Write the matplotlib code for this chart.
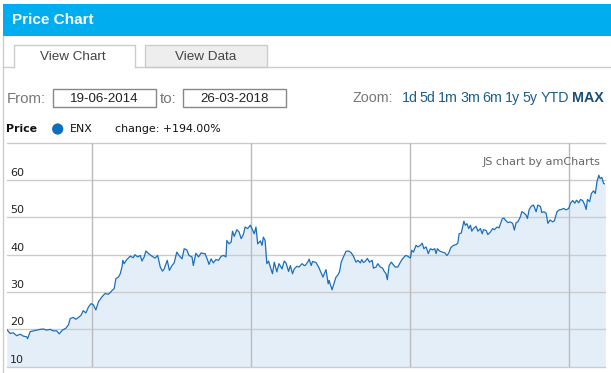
import numpy as np
import matplotlib
matplotlib.use("Agg")
import matplotlib.pyplot as plt
import matplotlib.patches as mpatches
from matplotlib.transforms import blended_transform_factory

# ENX price (days since 19-06-2014, price)
start_date = np.datetime64("2014-06-19")
end_date = np.datetime64("2018-03-26")

days = [0, 8, 15, 23, 31, 38, 46, 48, 54, 61, 69, 77, 84, 92, 100, 107, 115, 121, 128, 136,
        142, 146, 153, 159, 165, 171, 176, 182, 188, 194, 199, 205, 211, 219,
        226, 234, 242, 247, 251, 257, 261, 265, 267, 270, 276, 284, 291, 295, 301, 307, 311, 316,
        320, 326, 334, 341, 347, 353, 358, 362, 369, 374, 380, 385, 391, 396, 403, 408, 414, 419,
        426, 429, 435, 441, 447, 452,
        456, 462, 465, 470, 475, 481, 487, 493, 499, 504, 506, 511, 516, 519, 523, 529, 534, 539,
        544, 548, 554, 560, 565, 569, 573, 577, 583, 587, 590, 594, 598, 602, 606, 611, 615, 621,
        626, 633, 638, 642, 648, 652, 657, 661, 667, 672, 679, 684,
        686, 692, 695, 700, 703, 711, 717, 723, 727, 730, 734, 739, 741, 748, 751, 757, 761, 765,
        769, 774, 780, 786, 792, 797, 803, 807, 813, 816, 820, 824, 829, 834, 840, 843, 849, 853,
        859, 864, 868, 872, 875, 879, 884, 889, 893, 899, 905, 910, 914,
        917, 922, 928, 931, 935, 941, 945, 951, 955, 959, 964, 969, 974, 979, 984, 987, 990, 995,
        1001, 1007, 1012, 1016, 1021, 1027, 1033, 1037, 1040, 1045, 1048, 1051, 1054, 1058, 1062,
        1066, 1069, 1073, 1079, 1083, 1089, 1093, 1096, 1102, 1106, 1112, 1117, 1121, 1127, 1132,
        1139, 1143,
        1146, 1152, 1157, 1163, 1167, 1171, 1175, 1181, 1184, 1188, 1194, 1197, 1201, 1206, 1211,
        1217, 1221, 1227, 1230, 1235, 1240, 1244, 1249, 1255, 1259, 1265, 1270, 1275, 1280, 1286,
        1292, 1296, 1301, 1306, 1310, 1315, 1319, 1324, 1329, 1332, 1335, 1340, 1344, 1349, 1353,
        1357, 1361, 1364, 1368, 1372, 1376]

prices = [20.0, 18.9, 19.1, 18.3, 18.7, 18.2, 18.0, 17.5, 19.4, 19.6, 19.8, 20.0, 20.1, 19.8,
          20.0, 19.6, 19.6, 18.8, 19.8, 20.3, 21.2, 22.9, 23.2, 22.7, 23.2, 23.8, 25.0, 24.4,
          26.0, 26.9, 26.6, 25.2, 27.4, 28.7,
          29.6, 29.4, 30.4, 30.9, 33.6, 34.0, 34.9, 36.7, 38.5, 37.6, 38.7, 39.6, 39.2, 40.0,
          39.4, 39.8, 38.3, 39.4, 41.0, 40.3, 39.6, 39.1, 39.8, 36.7, 35.6, 36.2, 38.5, 35.8,
          37.1, 37.8, 40.7, 39.8, 38.9, 41.6, 41.3, 39.8, 39.4, 37.1, 40.4, 39.4, 40.5, 40.3,
          40.3, 38.5, 37.4, 38.9, 37.8, 38.7, 38.5, 39.6, 39.8, 39.4, 43.8, 42.9, 43.4, 46.3,
          44.9, 46.7, 46.1, 44.3, 45.4, 47.4, 47.0, 47.9, 46.7, 45.6, 47.4, 42.9, 43.7, 42.5,
          44.7, 43.8, 37.6, 38.3, 36.7, 34.9, 38.0, 35.4, 37.6, 36.2, 38.3, 37.8, 35.5, 37.1,
          34.9, 36.2, 36.9, 36.7, 37.6, 37.1,
          37.1, 38.0, 38.8, 37.1, 38.2, 37.9, 36.7, 35.1, 34.0, 34.9, 36.0, 32.2, 33.1, 30.6,
          31.8, 34.0, 34.5, 35.4, 38.0, 39.4, 40.9, 41.0, 40.5, 39.6, 38.0, 38.5, 37.8, 38.7,
          37.9, 38.2, 39.0, 38.0, 38.5, 36.4, 36.7, 37.6, 36.7, 36.4, 35.5, 34.9, 33.3, 37.1,
          38.0, 37.3, 36.7, 36.7, 38.0, 38.9, 39.4,
          39.8, 39.6, 39.1, 41.2, 40.7, 42.5, 42.1, 42.5, 43.1, 41.6, 42.1, 40.3, 41.6, 41.3,
          41.6, 40.3, 41.6, 41.0, 40.7, 40.5, 39.8, 40.4, 41.9, 42.5, 42.7, 43.1, 45.6, 45.8,
          47.4, 49.0, 47.9, 48.3, 47.0, 47.9, 46.3, 47.0, 47.6, 46.3, 47.0, 45.6, 46.7, 46.5,
          45.4, 46.1, 47.0, 46.7, 47.4, 47.2, 49.6, 49.8,
          49.3, 48.6, 48.8, 48.4, 46.6, 48.6, 48.8, 50.2, 51.5, 51.3, 50.6, 49.7, 52.1, 53.0,
          53.3, 51.5, 53.3, 52.9, 51.3, 51.5, 51.1, 48.4, 49.3, 48.8, 49.1, 51.5, 52.0, 52.1,
          52.4, 52.0, 52.4, 53.8, 54.5, 53.8, 54.6, 53.9, 54.8, 54.5, 53.3, 52.1, 54.8, 54.2,
          56.4, 57.1, 56.4, 59.6, 61.3, 60.4, 60.7, 59.1, 58.9]

y_ticks = [10, 20, 30, 40, 50, 60, 70]
y_labels = ["10", "20", "30", "40", "50", "60"]
year_lines = ["2015-01-01", "2016-01-01", "2017-01-01", "2018-01-01"]
zoom_options = ["1d", "5d", "1m", "3m", "6m", "1y", "5y", "YTD"]

dates = start_date + np.array(days).astype("timedelta64[D]")

W, H = 611, 373
fig = plt.figure(figsize=(W / 100, H / 100), dpi=100)
fig.patch.set_facecolor("white")

# page furniture, drawn in pixel coordinates
ui = fig.add_axes([0, 0, 1, 1])
ui.set_xlim(0, W)
ui.set_ylim(H, 0)
ui.axis("off")

ui.add_patch(mpatches.Rectangle((3, 4), W - 3, 32, color="#00aeef", lw=0))
ui.text(12.5, 20, "Price Chart", color="white", fontsize=11, fontweight="bold",
        family="Liberation Sans", va="center")
ui.plot([3, 3], [36, H], color="#cccccc", lw=1)

# tabs
ui.plot([3, 13.6], [67, 67], color="#cccccc", lw=1)
ui.plot([134.5, W], [67, 67], color="#cccccc", lw=1)
ui.plot([13.6, 13.6, 134.5, 134.5], [67, 45, 45, 67], color="#cccccc", lw=1)
ui.add_patch(mpatches.Rectangle((145, 45), 122, 22, facecolor="#eeeeee",
                                edgecolor="#cccccc", lw=1))
ui.text(73, 57.5, "View Chart", color="#444444", fontsize=9.7,
        family="Liberation Sans", ha="center", va="center")
ui.text(206, 57.5, "View Data", color="#444444", fontsize=9.7,
        family="Liberation Sans", ha="center", va="center")

# date range
ui.text(7, 99, "From:", color="#777777", fontsize=10.8, family="Liberation Sans", va="center")
ui.add_patch(mpatches.Rectangle((52.6, 89), 103.4, 18, facecolor="white",
                                edgecolor="#888888", lw=1))
ui.text(104.3, 98.5, "19-06-2014", color="#222222", fontsize=9.6,
        family="Liberation Sans", ha="center", va="center")
ui.text(160, 99, "to:", color="#777777", fontsize=10.8, family="Liberation Sans", va="center")
ui.add_patch(mpatches.Rectangle((182.5, 89), 103.3, 18, facecolor="white",
                                edgecolor="#888888", lw=1))
ui.text(234.2, 98.5, "26-03-2018", color="#222222", fontsize=9.6,
        family="Liberation Sans", ha="center", va="center")

# zoom buttons
ui.text(352.7, 98, "Zoom:", color="#777777", fontsize=10.3, family="Liberation Sans", va="center")
zx = [401.7, 419.3, 438.3, 460, 482.7, 505, 522.7, 540.7]
for x, s in zip(zx, zoom_options):
    ui.text(x, 98, s, color="#1d5e8c", fontsize=10.3, family="Liberation Sans", va="center")
ui.text(571.7, 98, "MAX", color="#1a4d78", fontsize=10.3, fontweight="bold",
        family="Liberation Sans", va="center")

# legend row
ui.text(6, 129, "Price", color="#111111", fontsize=7.9, fontweight="bold", va="center")
ui.add_patch(mpatches.Circle((57.7, 129), 5.6, color="#0d6ebd", lw=0))
ui.text(70, 129, "ENX", color="#111111", fontsize=7.9, va="center")
ui.text(115, 129, "change: +194.00%", color="#111111", fontsize=7.9, va="center")

# chart
left, right = 6.7, 605.3
top, bottom = 142.7, 366.7
ax = fig.add_axes([left / W, (H - bottom) / H, (right - left) / W, (bottom - top) / H])
ax.set_facecolor("none")
ax.fill_between(dates, prices, 10, color="#e4eef8", lw=0, zorder=1)
ax.plot(dates, prices, color="#1a6fbd", lw=0.9, zorder=3)
ax.set_xlim(start_date, end_date)
ax.set_ylim(10, 70)

for v in y_ticks:
    ax.axhline(v, color="#cccccc", lw=1, zorder=2, clip_on=False)
for d in year_lines:
    ax.axvline(np.datetime64(d), color="#bbbbbb", lw=1, zorder=2)

trans = blended_transform_factory(ax.transAxes, ax.transData)
for s in y_labels:
    ax.annotate(s, xy=(0, float(s)), xycoords=trans, xytext=(2.4, 1.5),
                textcoords="offset points", fontsize=8, color="#222222",
                ha="left", va="bottom", zorder=4)

ax.text(0.992, 0.915, "JS chart by amCharts", transform=ax.transAxes, fontsize=8,
        color="#666666", ha="right", va="center", zorder=4)

ax.set_xticks([])
ax.set_yticks([])
for sp in ax.spines.values():
    sp.set_visible(False)

fig.savefig("out.png", dpi=100, facecolor="white")
